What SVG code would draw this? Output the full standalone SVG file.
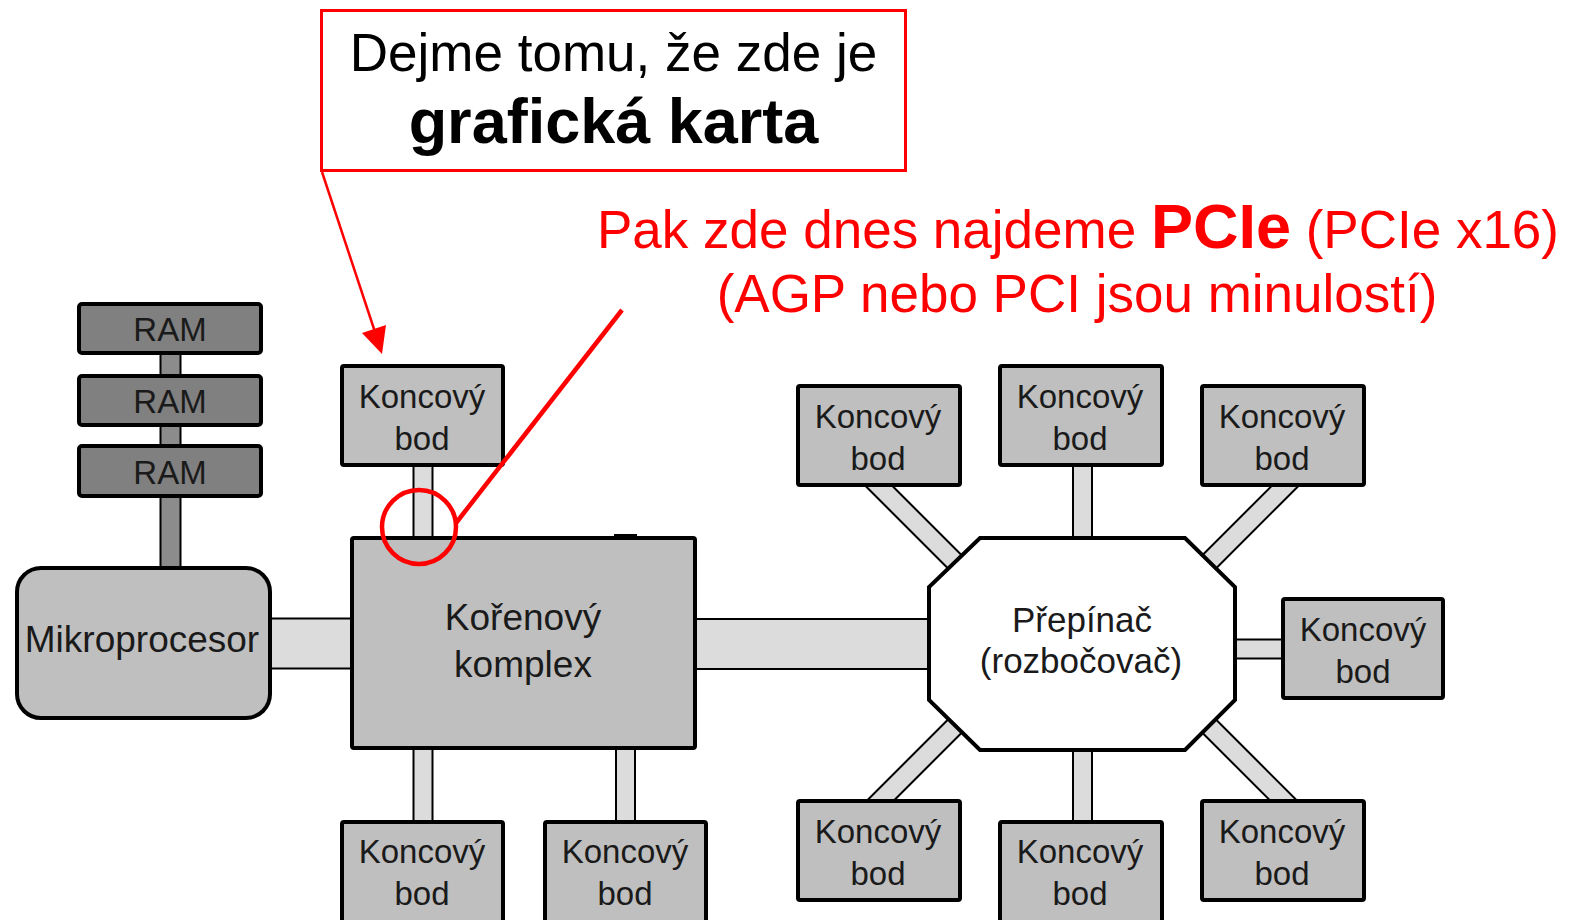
<svg xmlns="http://www.w3.org/2000/svg" width="1571" height="920" viewBox="0 0 1571 920">
<defs>
<style>
.o{stroke:#000;fill:none;stroke-linecap:butt}
.i{stroke:#dcdcdc;fill:none;stroke-linecap:butt}
.ir{stroke:#8c8c8c;fill:none}
.box{fill:#bfbfbf;stroke:#000;stroke-width:4}
.ram{fill:#808080;stroke:#000;stroke-width:4}
.t{font-family:"Liberation Sans",Arial,sans-serif;fill:#1a1a1a;text-anchor:middle}
.k{font-size:33px}
.red{fill:#ff0000;font-family:"Liberation Sans",Arial,sans-serif;text-anchor:middle}
</style>
</defs>
<rect width="1571" height="920" fill="#fff"/>

<g id="connectors">
<line class="o" x1="170.5" y1="330" x2="170.5" y2="590" stroke-width="22"/>
<line class="ir" x1="170.5" y1="330" x2="170.5" y2="590" stroke-width="18"/>
<line class="o" x1="200" y1="643.5" x2="450" y2="643.5" stroke-width="52"/>
<line class="i" x1="200" y1="643.5" x2="450" y2="643.5" stroke-width="48"/>
<line class="o" x1="600" y1="644" x2="1000" y2="644" stroke-width="52"/>
<line class="i" x1="600" y1="644" x2="1000" y2="644" stroke-width="48"/>
<line class="o" x1="423" y1="420" x2="423" y2="600" stroke-width="21"/>
<line class="i" x1="423" y1="420" x2="423" y2="600" stroke-width="17"/>
<line class="o" x1="423" y1="700" x2="423" y2="860" stroke-width="21"/>
<line class="i" x1="423" y1="700" x2="423" y2="860" stroke-width="17"/>
<line class="o" x1="625.5" y1="700" x2="625.5" y2="860" stroke-width="21"/>
<line class="i" x1="625.5" y1="700" x2="625.5" y2="860" stroke-width="17"/>
<line class="o" x1="1082.5" y1="420" x2="1082.5" y2="600" stroke-width="21"/>
<line class="i" x1="1082.5" y1="420" x2="1082.5" y2="600" stroke-width="17"/>
<line class="o" x1="1082.5" y1="700" x2="1082.5" y2="860" stroke-width="21"/>
<line class="i" x1="1082.5" y1="700" x2="1082.5" y2="860" stroke-width="17"/>
<line class="o" x1="1150" y1="649" x2="1330" y2="649" stroke-width="21"/>
<line class="i" x1="1150" y1="649" x2="1330" y2="649" stroke-width="17"/>
<line class="o" x1="841" y1="448" x2="1000" y2="607" stroke-width="21"/>
<line class="i" x1="841" y1="448" x2="1000" y2="607" stroke-width="17"/>
<line class="o" x1="1323" y1="448" x2="1183" y2="588" stroke-width="21"/>
<line class="i" x1="1323" y1="448" x2="1183" y2="588" stroke-width="17"/>
<line class="o" x1="842" y1="839" x2="982" y2="699" stroke-width="21"/>
<line class="i" x1="842" y1="839" x2="982" y2="699" stroke-width="17"/>
<line class="o" x1="1322" y1="839" x2="1182" y2="699" stroke-width="21"/>
<line class="i" x1="1322" y1="839" x2="1182" y2="699" stroke-width="17"/>
<rect x="614" y="534" width="23" height="2" fill="#000"/>
</g>

<g id="ram1"><rect class="ram" x="79" y="304" width="182" height="49" rx="3"/><text class="t k" x="170" y="341">RAM</text></g>
<g id="ram2"><rect class="ram" x="79" y="376" width="182" height="49" rx="3"/><text class="t k" x="170" y="413">RAM</text></g>
<g id="ram3"><rect class="ram" x="79" y="446" width="182" height="50" rx="3"/><text class="t k" x="170" y="484">RAM</text></g>

<g id="mikroprocesor"><rect class="box" x="17" y="568" width="253" height="150" rx="24"/><text class="t" x="142" y="652" font-size="37">Mikroprocesor</text></g>

<g id="root"><rect class="box" x="352" y="538" width="343" height="210" rx="2"/><text class="t" x="523" y="630" font-size="37">Kořenový</text><text class="t" x="523" y="677" font-size="37">komplex</text></g>

<g id="switch"><polygon points="980,538 1185,538 1235,587 1235,700 1185,750 980,750 929,700 929,587" fill="#fff" stroke="#000" stroke-width="4" stroke-linejoin="miter"/><text class="t" x="1082" y="632" font-size="35">Přepínač</text><text class="t" x="1081" y="673" font-size="35">(rozbočovač)</text></g>

<g id="ep-top"><rect class="box" x="342" y="366" width="161" height="99" rx="2"/><text class="t k" x="422" y="408">Koncový</text><text class="t k" x="422" y="450">bod</text></g>
<g id="ep-bl1"><rect class="box" x="342" y="822" width="161" height="130" rx="2"/><text class="t k" x="422" y="863">Koncový</text><text class="t k" x="422" y="905">bod</text></g>
<g id="ep-bl2"><rect class="box" x="545" y="822" width="161" height="130" rx="2"/><text class="t k" x="625" y="863">Koncový</text><text class="t k" x="625" y="905">bod</text></g>
<g id="ep-s-tl"><rect class="box" x="798" y="386" width="162" height="99" rx="2"/><text class="t k" x="878" y="428">Koncový</text><text class="t k" x="878" y="470">bod</text></g>
<g id="ep-s-t"><rect class="box" x="1000" y="366" width="162" height="99" rx="2"/><text class="t k" x="1080" y="408">Koncový</text><text class="t k" x="1080" y="450">bod</text></g>
<g id="ep-s-tr"><rect class="box" x="1202" y="386" width="162" height="99" rx="2"/><text class="t k" x="1282" y="428">Koncový</text><text class="t k" x="1282" y="470">bod</text></g>
<g id="ep-s-r"><rect class="box" x="1283" y="599" width="160" height="99" rx="2"/><text class="t k" x="1363" y="641">Koncový</text><text class="t k" x="1363" y="683">bod</text></g>
<g id="ep-s-bl"><rect class="box" x="798" y="801" width="162" height="99" rx="2"/><text class="t k" x="878" y="843">Koncový</text><text class="t k" x="878" y="885">bod</text></g>
<g id="ep-s-b"><rect class="box" x="1000" y="822" width="162" height="130" rx="2"/><text class="t k" x="1080" y="863">Koncový</text><text class="t k" x="1080" y="905">bod</text></g>
<g id="ep-s-br"><rect class="box" x="1202" y="801" width="162" height="99" rx="2"/><text class="t k" x="1282" y="843">Koncový</text><text class="t k" x="1282" y="885">bod</text></g>

<g id="callout">
<rect x="321.5" y="10.5" width="584" height="160" fill="#fff" stroke="#ff0000" stroke-width="3"/>
<text x="613.5" y="71" font-family="Liberation Sans, Arial, sans-serif" font-size="53" text-anchor="middle" fill="#000">Dejme tomu, že zde je</text>
<text x="613.5" y="143" font-family="Liberation Sans, Arial, sans-serif" font-size="63" font-weight="bold" text-anchor="middle" fill="#000">grafická karta</text>
<line x1="322" y1="172" x2="375" y2="332" stroke="#ff0000" stroke-width="2.5"/>
<polygon points="382,354 386,325 362,333" fill="#ff0000"/>
</g>

<g id="pcie-note">
<text class="red" x="1078" y="248" font-size="53">Pak zde dnes najdeme <tspan font-weight="bold" font-size="63">PCIe</tspan> (PCIe x16)</text>
<text class="red" x="1077" y="312" font-size="53">(AGP nebo PCI jsou minulostí)</text>
<line x1="622" y1="310" x2="456" y2="523" stroke="#ff0000" stroke-width="4.5"/>
<circle cx="419" cy="527" r="37" fill="none" stroke="#ff0000" stroke-width="4.5"/>
</g>
</svg>
